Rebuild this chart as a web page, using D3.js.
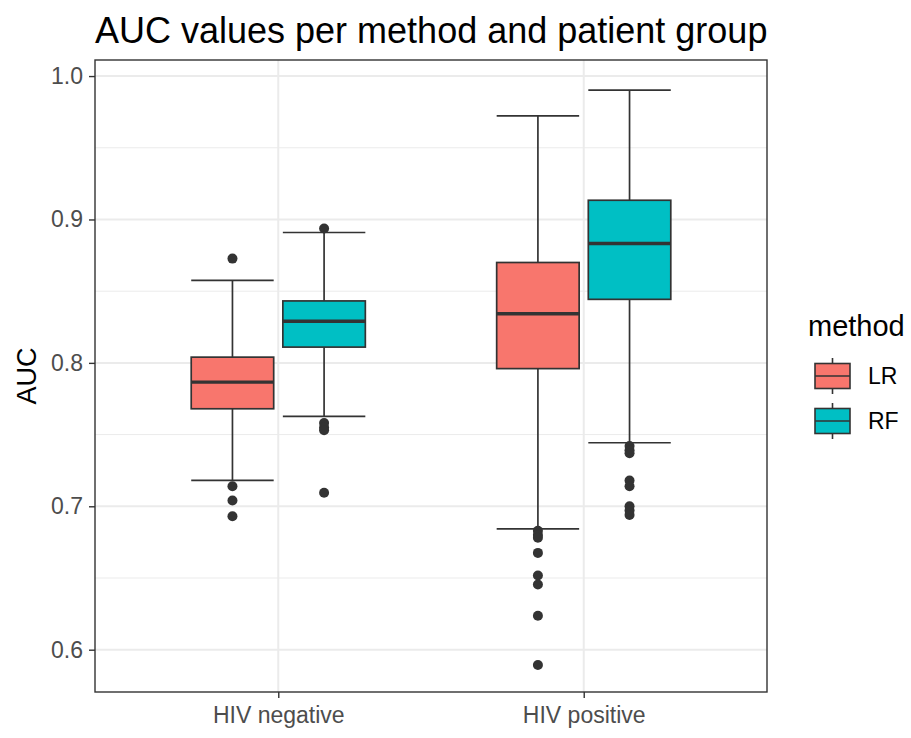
<!DOCTYPE html>
<html>
<head>
<meta charset="utf-8">
<script src="https://cdn.jsdelivr.net/npm/d3@7"></script>
<style>
  body { margin: 0; background: #fff; }
  text { font-family: "Liberation Sans", Arial, sans-serif; }
</style>
</head>
<body>
<svg id="chart" width="911" height="738"></svg>
<script>
// data
var groups = ["HIV negative", "HIV positive"];
var methods = ["LR", "RF"];
var fills = ["#F8766D", "#00BFC4"];
var yTicks = [0.6, 0.7, 0.8, 0.9, 1.0];
var yMinor = [0.65, 0.75, 0.85, 0.95];

// [group][method]
var lowerWhisker = [[0.718, 0.7627], [0.6843, 0.7443]];
var q1 = [[0.768, 0.811], [0.796, 0.8443]];
var medians = [[0.7866, 0.829], [0.8343, 0.8832]];
var q3 = [[0.804, 0.8432], [0.870, 0.9134]];
var upperWhisker = [[0.8576, 0.8909], [0.9723, 0.9902]];
var outliers = [
  [[0.8727, 0.714, 0.704, 0.693], [0.8937, 0.758, 0.755, 0.753, 0.7094]],
  [[0.683, 0.680, 0.678, 0.6675, 0.6517, 0.6454, 0.6237, 0.5893],
   [0.742, 0.739, 0.737, 0.718, 0.714, 0.700, 0.697, 0.694]]
];

var svg = d3.select("#chart");
var panel = { left: 95, right: 767, top: 60, bottom: 692 };
var ink = "#333333";

var x = d3.scalePoint().domain(groups).range([panel.left, panel.right]).padding(0.6);
var y = d3.scaleLinear().domain([0.5705, 1.0112]).range([panel.bottom, panel.top]);
var step = x.step();
var dodge = 0.15 * step, boxW = 0.27 * step;

// grid
var grid = svg.append("g");
grid.selectAll(".minor").data(yMinor).enter().append("line")
  .attr("x1", panel.left).attr("x2", panel.right)
  .attr("y1", d => y(d)).attr("y2", d => y(d))
  .attr("stroke", "#EBEBEB").attr("stroke-width", 1);
grid.selectAll(".major").data(yTicks).enter().append("line")
  .attr("x1", panel.left).attr("x2", panel.right)
  .attr("y1", d => y(d)).attr("y2", d => y(d))
  .attr("stroke", "#EBEBEB").attr("stroke-width", 2);
grid.selectAll(".vert").data(groups).enter().append("line")
  .attr("x1", d => x(d)).attr("x2", d => x(d))
  .attr("y1", panel.top).attr("y2", panel.bottom)
  .attr("stroke", "#EBEBEB").attr("stroke-width", 2);

// boxes
var boxes = [];
groups.forEach(function (g, gi) {
  methods.forEach(function (m, mi) {
    boxes.push({ g: g, gi: gi, mi: mi, cx: x(g) + (mi === 0 ? -dodge : dodge) });
  });
});

var bg = svg.append("g").selectAll("g").data(boxes).enter().append("g");
bg.append("line") // whisker
  .attr("x1", d => d.cx).attr("x2", d => d.cx)
  .attr("y1", d => y(upperWhisker[d.gi][d.mi])).attr("y2", d => y(lowerWhisker[d.gi][d.mi]))
  .attr("stroke", ink).attr("stroke-width", 1.7);
bg.append("line") // upper cap
  .attr("x1", d => d.cx - boxW / 2).attr("x2", d => d.cx + boxW / 2)
  .attr("y1", d => y(upperWhisker[d.gi][d.mi])).attr("y2", d => y(upperWhisker[d.gi][d.mi]))
  .attr("stroke", ink).attr("stroke-width", 1.7);
bg.append("line") // lower cap
  .attr("x1", d => d.cx - boxW / 2).attr("x2", d => d.cx + boxW / 2)
  .attr("y1", d => y(lowerWhisker[d.gi][d.mi])).attr("y2", d => y(lowerWhisker[d.gi][d.mi]))
  .attr("stroke", ink).attr("stroke-width", 1.7);
bg.append("rect")
  .attr("x", d => d.cx - boxW / 2).attr("width", boxW)
  .attr("y", d => y(q3[d.gi][d.mi]))
  .attr("height", d => y(q1[d.gi][d.mi]) - y(q3[d.gi][d.mi]))
  .attr("fill", d => fills[d.mi]).attr("stroke", ink).attr("stroke-width", 1.7);
bg.append("line") // median
  .attr("x1", d => d.cx - boxW / 2).attr("x2", d => d.cx + boxW / 2)
  .attr("y1", d => y(medians[d.gi][d.mi])).attr("y2", d => y(medians[d.gi][d.mi]))
  .attr("stroke", ink).attr("stroke-width", 3.4);
bg.selectAll("circle").data(d => outliers[d.gi][d.mi].map(v => ({ cx: d.cx, v: v })))
  .enter().append("circle")
  .attr("cx", d => d.cx).attr("cy", d => y(d.v)).attr("r", 5)
  .attr("fill", ink);

// panel border
svg.append("rect")
  .attr("x", panel.left).attr("y", panel.top)
  .attr("width", panel.right - panel.left).attr("height", panel.bottom - panel.top)
  .attr("fill", "none").attr("stroke", ink).attr("stroke-width", 1.4);

// axes
var yAxis = svg.append("g").attr("transform", "translate(" + panel.left + ",0)")
  .call(d3.axisLeft(y).tickValues(yTicks).tickFormat(d3.format(".1f")).tickSize(6).tickPadding(6));
var xAxis = svg.append("g").attr("transform", "translate(0," + panel.bottom + ")")
  .call(d3.axisBottom(x).tickSize(6).tickPadding(9));
[yAxis, xAxis].forEach(function (a) {
  a.select(".domain").remove();
  a.selectAll(".tick line").attr("stroke", ink).attr("stroke-width", 1.4);
  a.selectAll(".tick text").attr("fill", "#4D4D4D")
    .style("font-size", "23px").style("font-family", "'Liberation Sans', Arial, sans-serif");
});

// titles
svg.append("text").attr("x", panel.left).attr("y", 43)
  .style("font-size", "36px").attr("fill", "#000")
  .text("AUC values per method and patient group");
svg.append("text")
  .attr("transform", "translate(36," + ((panel.top + panel.bottom) / 2) + ") rotate(-90)")
  .attr("text-anchor", "middle")
  .style("font-size", "27px").attr("fill", "#000").text("AUC");

// legend
var leg = svg.append("g");
leg.append("text").attr("x", 808).attr("y", 336)
  .style("font-size", "29px").attr("fill", "#000").text("method");
var keys = leg.selectAll(".key").data(methods).enter().append("g")
  .attr("transform", (d, i) => "translate(815," + (358 + i * 45) + ")");
keys.append("line").attr("x1", 17.5).attr("x2", 17.5).attr("y1", 0).attr("y2", 36)
  .attr("stroke", ink).attr("stroke-width", 1.6);
keys.append("rect").attr("x", 0).attr("y", 5.5).attr("width", 35).attr("height", 25)
  .attr("fill", (d, i) => fills[i]).attr("stroke", ink).attr("stroke-width", 1.6);
keys.append("line").attr("x1", 0).attr("x2", 35).attr("y1", 18).attr("y2", 18)
  .attr("stroke", ink).attr("stroke-width", 1.6);
keys.append("text").attr("x", 53).attr("y", 18).attr("dy", "0.35em")
  .style("font-size", "23px").attr("fill", "#000").text(d => d);
</script>
</body>
</html>
